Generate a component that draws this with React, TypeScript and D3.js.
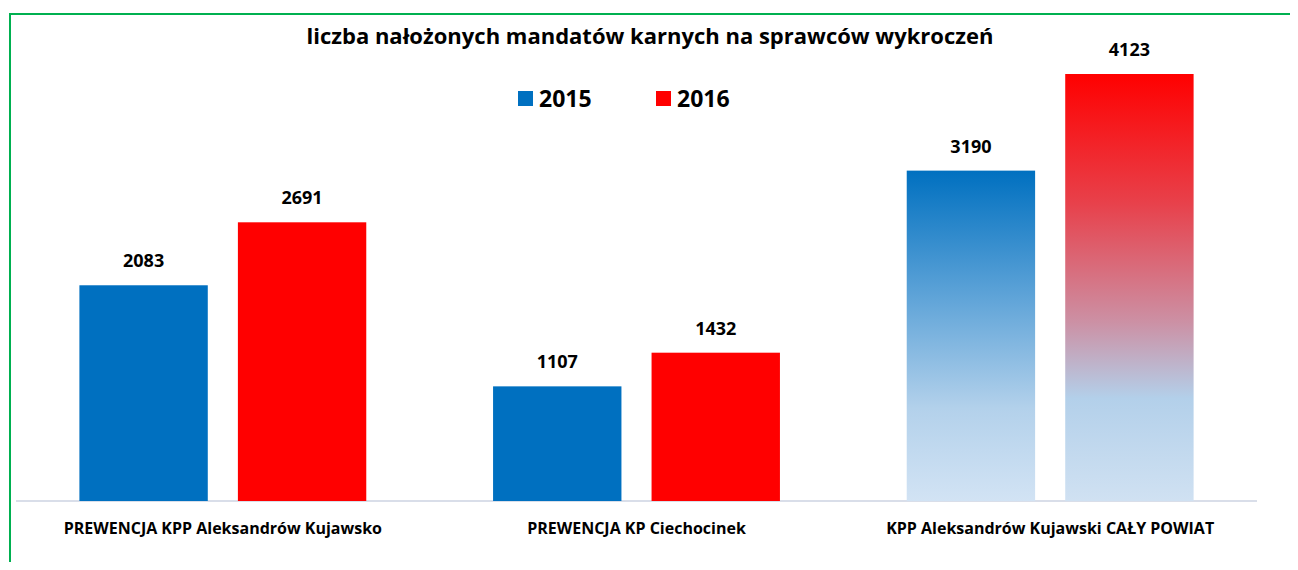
import React from 'react';
import * as d3 from 'd3';

const categories = [
  'PREWENCJA KPP Aleksandrów Kujawsko',
  'PREWENCJA KP Ciechocinek',
  'KPP Aleksandrów Kujawski CAŁY POWIAT',
];
const years = ['2015', '2016'];
const values2015 = [2083, 1107, 3190];
const values2016 = [2691, 1432, 4123];

const W = 1298;
const H = 570;
const FONT = '"Open Sans", sans-serif';

export default function App() {
  const x = d3.scaleBand().domain(categories).range([16, 1257]).paddingInner(0).paddingOuter(0);
  const xs = d3.scaleBand().domain(years).range([0, x.bandwidth()]).paddingInner(0.19).paddingOuter(0.4);
  const y = d3.scaleLinear().domain([0, 4123]).range([501, 74]);

  const series = [values2015, values2016];
  const solid = ['#0070c0', '#ff0000'];

  return (
    <div style={{ margin: -8 }}>
      <svg width={W} height={H} style={{ display: 'block', background: '#fff' }}>
        <defs>
          <linearGradient id="gBlue" x1="0" y1="0" x2="0" y2="1">
            <stop offset="0" stopColor="#0070c0" />
            <stop offset="0.4" stopColor="#63a6d9" />
            <stop offset="0.72" stopColor="#b3d1eb" />
            <stop offset="1" stopColor="#d2e3f4" />
          </linearGradient>
          <linearGradient id="gRed" x1="0" y1="0" x2="0" y2="1">
            <stop offset="0" stopColor="#ff0000" />
            <stop offset="0.3" stopColor="#e8404a" />
            <stop offset="0.58" stopColor="#cc90a4" />
            <stop offset="0.76" stopColor="#b3d0ea" />
            <stop offset="1" stopColor="#d0e1f2" />
          </linearGradient>
        </defs>

        {/* green frame */}
        <line x1={10} x2={W} y1={14} y2={14} stroke="#00b050" strokeWidth={2} />
        <line x1={10} x2={10} y1={13} y2={H} stroke="#00b050" strokeWidth={2} />

        <text x={650} y={44} textAnchor="middle" fontFamily={FONT} fontWeight="bold" fontSize={22} fill="#000">
          liczba nałożonych mandatów karnych na sprawców wykroczeń
        </text>

        {/* legend */}
        {years.map((yr, i) => (
          <g key={yr} transform={`translate(${518 + i * 138},0)`}>
            <rect x={0} y={91} width={15} height={15} fill={solid[i]} />
            <text x={21} y={107} fontFamily={FONT} fontWeight="bold" fontSize={23} fill="#000">{yr}</text>
          </g>
        ))}

        <line x1={16} x2={1257} y1={501} y2={501} stroke="#d9dee9" strokeWidth={2} />

        {categories.map((c, ci) => (
          <g key={c} transform={`translate(${x(c)},0)`}>
            {years.map((yr, si) => {
              const v = series[si][ci];
              const last = ci === categories.length - 1;
              const fill = last ? (si === 0 ? 'url(#gBlue)' : 'url(#gRed)') : solid[si];
              const bx = xs(yr)!;
              return (
                <g key={yr}>
                  <rect x={bx} y={y(v)} width={xs.bandwidth()} height={y(0) - y(v)} fill={fill} />
                  <text x={bx + xs.bandwidth() / 2} y={y(v) - 18} textAnchor="middle" fontFamily={FONT}
                    fontWeight="bold" fontSize={18} fill="#000">{v}</text>
                </g>
              );
            })}
            <text x={x.bandwidth() / 2} y={534} textAnchor="middle" fontFamily={FONT} fontWeight="bold"
              fontSize={16} fill="#000">{c}</text>
          </g>
        ))}
      </svg>
    </div>
  );
}
